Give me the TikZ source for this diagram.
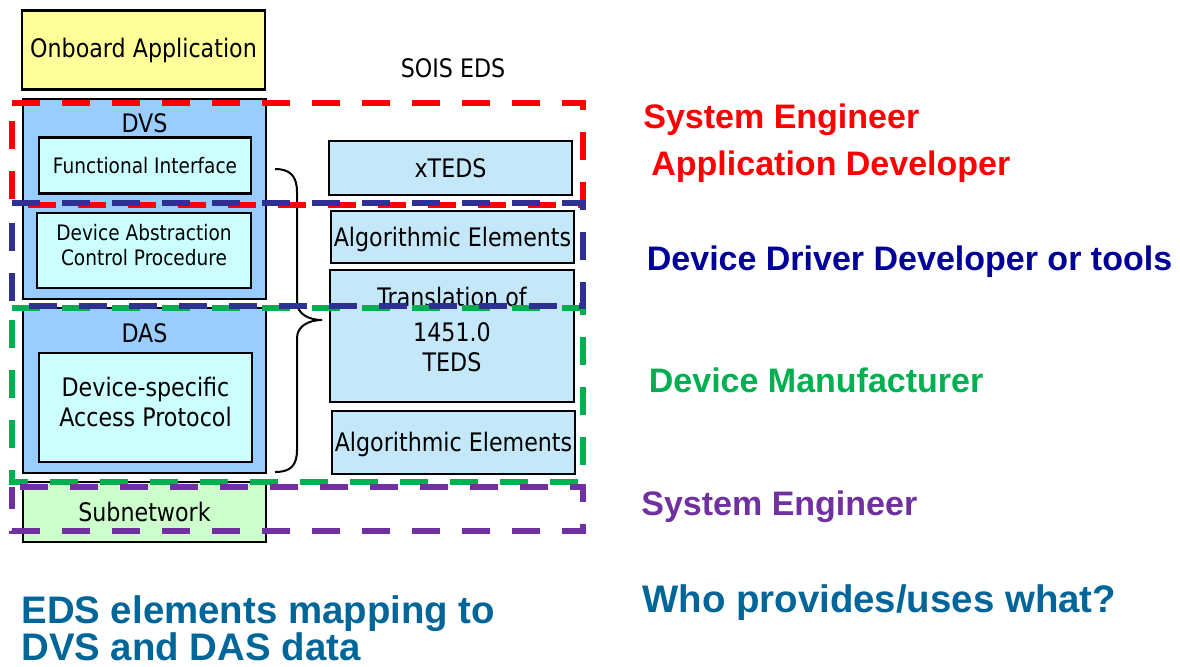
\documentclass[tikz,border=0pt]{standalone}
\usepackage{fontspec}
\setmainfont{DejaVu Sans}[FakeStretch=0.87]
\newfontfamily\rolefont{Liberation Sans}

\definecolor{appyellow}{HTML}{FFFF99}
\definecolor{layerblue}{HTML}{99CCFF}
\definecolor{itemcyan}{HTML}{CCFFFF}
\definecolor{netgreen}{HTML}{CCFFCC}
\definecolor{edsblue}{HTML}{C4E8FA}
\definecolor{framered}{HTML}{FF0000}
\definecolor{frameblue}{HTML}{2E3192}
\definecolor{framegreen}{HTML}{00B050}
\definecolor{framepurple}{HTML}{7030A0}
\definecolor{rolenavy}{HTML}{000099}
\definecolor{titleblue}{HTML}{006699}

\newcommand\boxtext{\fontsize{12.75pt}{15pt}\selectfont}
\newcommand\smallboxtext{\fontsize{10.65pt}{12.5pt}\selectfont}
\newcommand\rolesize{\rolefont\bfseries\fontsize{17pt}{18pt}\selectfont}
\newcommand\titlesize{\rolefont\bfseries\fontsize{19.2pt}{18.5pt}\selectfont}

\begin{document}
\begin{tikzpicture}[x=0.5pt,y=-0.5pt,
  box/.style={draw=black, line width=1.1pt, inner sep=0pt, align=center, font=\boxtext},
  plain/.style={inner sep=0pt, align=center, font=\boxtext},
  frame/.style={line width=3.4pt, dash pattern=on 14pt off 11pt},
  role/.style={anchor=base west, inner sep=0pt, font=\rolesize},
  title/.style={anchor=base west, inner sep=0pt, align=left, font=\titlesize, text=titleblue}]
\useasboundingbox (0,0) rectangle (1180,666);

% application and service layers
\node[box, fill=appyellow, minimum width=121.5pt, minimum height=39.5pt] (onboard) at (143.5,50) {Onboard Application};
\node[box, fill=layerblue, minimum width=121.5pt, minimum height=100pt] (dvs) at (144.5,199) {};
\node[plain] (dvslabel) at (144.5,123) {DVS};
\node[box, fill=itemcyan, minimum width=106pt, minimum height=28pt, font=\smallboxtext] (fi) at (145,165.5) {Functional Interface};
\node[box, fill=itemcyan, minimum width=107pt, minimum height=37.5pt] (dac) at (144,250.5) {};
\node[plain, font=\smallboxtext] (dactext) at (144,245.5) {Device Abstraction\\Control Procedure};
\node[box, fill=layerblue, minimum width=121.5pt, minimum height=82.5pt] (das) at (144.5,390.5) {};
\node[plain] (daslabel) at (144.5,333) {DAS};
\node[box, fill=itemcyan, minimum width=106.5pt, minimum height=54.5pt] (dsap) at (145.5,407.5) {};
\node[plain] (dsaptext) at (145.5,402) {Device-specific\\Access Protocol};
\node[box, fill=netgreen, minimum width=121.5pt, minimum height=30pt] (subnet) at (144.5,512) {Subnetwork};

% electronic data sheet elements
\node[plain] (sois) at (453,68) {SOIS EDS};
\node[box, fill=edsblue, minimum width=121.5pt, minimum height=27pt] (xteds) at (450.5,168) {xTEDS};
\node[box, fill=edsblue, minimum width=121.5pt, minimum height=26pt] (alg1) at (452.5,237) {};
\node[plain] (alg1text) at (452.5,239) {Algorithmic Elements};
\node[box, fill=edsblue, minimum width=122pt, minimum height=66pt] (trans) at (452,336) {};
\node[plain] (transtext) at (452,329) {Translation of\\[2.5pt]1451.0\\TEDS};
\node[box, fill=edsblue, minimum width=121.5pt, minimum height=31.5pt] (alg2) at (453.5,442.5) {};
\node[plain] (alg2text) at (453.5,444.5) {Algorithmic Elements};

% brace grouping the service layers
\draw[line width=1pt] (275,169) .. controls (290,169) and (297,176) .. (297,192)
  -- (297,302) .. controls (297,314) and (309,320) .. (322,320)
  .. controls (309,320) and (297,326) .. (297,338)
  -- (297,450) .. controls (297,466) and (290,472) .. (275,472);

% responsibility frames
\draw[frame, draw=framered] (12,103) -- (583,103) -- (583,205) -- (12,205) -- cycle;
\draw[frame, draw=framegreen] (12,308) -- (583,308) -- (583,482) -- (12,482) -- cycle;
\draw[frame, draw=frameblue] (12,203) -- (583,203) -- (583,306) -- (12,306) -- cycle;
\draw[frame, draw=framepurple, dash phase=21pt] (12,487) -- (583,487) -- (583,531) -- (12,531) -- cycle;

% roles
\node[role, text=framered] (sysengA) at (643,128) {System Engineer};
\node[role, text=framered] (appdev) at (651,175) {Application Developer};
\node[role, text=rolenavy] (driverdev) at (646.5,270) {Device Driver Developer or tools};
\node[role, text=framegreen] (manuf) at (648.5,392) {Device Manufacturer};
\node[role, text=framepurple] (sysengB) at (641,515) {System Engineer};

% captions
\node[title] (who) at (642,612) {Who provides/uses what?};
\node[title] (mapping) at (21,623) {EDS elements mapping to};
\node[title] (mapping2) at (21,660) {DVS and DAS data};
\end{tikzpicture}
\end{document}
